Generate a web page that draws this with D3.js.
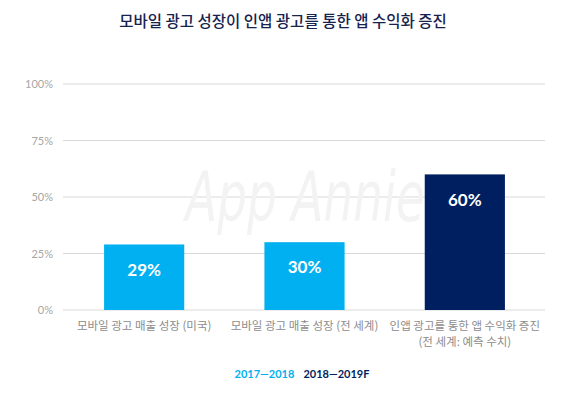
<!DOCTYPE html>
<html><head><meta charset="utf-8">
<script src="https://cdn.jsdelivr.net/npm/d3@7"></script>
<style>body{margin:0;background:#fff;} svg{display:block;}</style>
</head><body>
<svg id="c" width="566" height="399"></svg>
<script>
const title = "모바일 광고 성장이 인앱 광고를 통한 앱 수익화 증진";
const categories = [["모바일 광고 매출 성장 (미국)"], ["모바일 광고 매출 성장 (전 세계)"], ["인앱 광고를 통한 앱 수익화 증진", "(전 세계: 예측 수치)"]];
const values = [29, 30, 60];
const series = ["2017—2018", "2017—2018", "2018—2019F"];
const legendLabels = ["2017—2018", "2018—2019F"];
const yTicks = [0, 25, 50, 75, 100];

const colors = {"2017—2018": "#00b0f0", "2018—2019F": "#001f60"};
const svg = d3.select("#c");
const kr = "'Noto Sans CJK KR', 'Noto Sans', sans-serif";
const num = "Lato, 'Open Sans', sans-serif";

const x = d3.scaleBand().domain(d3.range(values.length)).range([64, 545]).paddingInner(0.5).paddingOuter(0.25);
const y = d3.scaleLinear().domain([0, 100]).range([310, 84]);

// grid
svg.append("g").selectAll("line").data(yTicks).join("line")
  .attr("x1", 63).attr("x2", 545).attr("y1", d => y(d)).attr("y2", d => y(d))
  .attr("stroke", "#d9d9d9").attr("stroke-width", 1);

// watermark
svg.append("text").attr("x", 305).attr("y", 192).attr("text-anchor", "middle")
  .attr("font-family", "'DejaVu Sans', sans-serif")
  .attr("font-style", "italic").attr("font-size", 60).attr("fill", "#f3f3f3")
  .attr("transform", "translate(305,0) scale(0.78,1.15) translate(-305,0)")
  .text("App Annie");

svg.append("text").attr("x", 283).attr("y", 27).attr("text-anchor", "middle")
  .attr("font-family", kr).attr("font-weight", 500).attr("font-size", 15.5).attr("fill", "#17234f").text(title);

const yAxis = d3.axisLeft(y).tickValues(yTicks).tickFormat(d => d + "%").tickSize(0).tickPadding(10);
const ga = svg.append("g").attr("transform", "translate(63,0)").call(yAxis);
ga.select(".domain").remove();
ga.selectAll("text").attr("font-family", num).attr("font-size", 11).attr("fill", "#a6a6a6");

// bars
svg.append("g").selectAll("rect").data(values).join("rect")
  .attr("x", (d, i) => x(i)).attr("width", x.bandwidth())
  .attr("y", d => y(d)).attr("height", d => y(0) - y(d))
  .attr("fill", (d, i) => colors[series[i]]);

svg.append("g").selectAll("text").data(values).join("text")
  .attr("x", (d, i) => x(i) + x.bandwidth() / 2)
  .attr("y", d => y(d) + Math.min((y(0) - y(d)) / 2, 25))
  .attr("dy", "0.36em").attr("text-anchor", "middle")
  .attr("font-family", num).attr("font-weight", "bold").attr("font-size", 17)
  .attr("fill", "#fff").text(d => d + "%");

// category labels
const cl = svg.append("g").selectAll("text").data(categories).join("text")
  .attr("x", (d, i) => x(i) + x.bandwidth() / 2).attr("y", 330)
  .attr("text-anchor", "middle").attr("font-family", kr).attr("font-size", 11.5).attr("fill", "#8c8c8c");
cl.selectAll("tspan").data((d, i) => d.map(t => ({t, i}))).join("tspan")
  .attr("x", d => x(d.i) + x.bandwidth() / 2).attr("dy", (d, j) => j === 0 ? 0 : 16).text(d => d.t);

// legend
const lg = svg.append("text").attr("x", 302).attr("y", 378).attr("text-anchor", "middle")
  .attr("font-family", num).attr("font-weight", "bold").attr("font-size", 11);
lg.selectAll("tspan").data(legendLabels).join("tspan")
  .attr("dx", (d, i) => i ? 9 : 0).attr("fill", d => colors[d]).text(d => d);
</script>
</body></html>
